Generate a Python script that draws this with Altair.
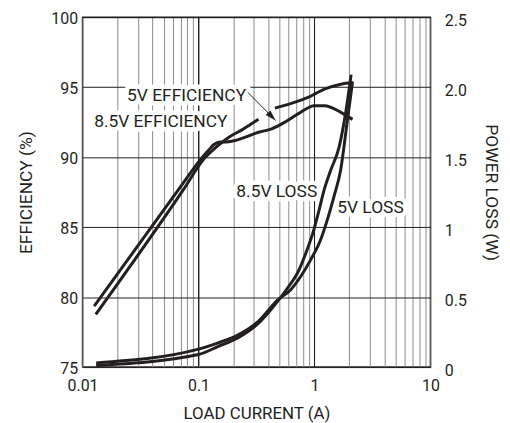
import altair as alt
import pandas as pd

FONT = "Roboto, Liberation Sans, sans-serif"
INK = "#231f20"

# ---------------- data ----------------
# 5V efficiency (sharp knee near 0.12 A, lower curve at high current)
eff5_x = [0.0126, 0.0667, 0.108, 0.122, 0.136, 0.15, 0.182, 0.208, 0.253, 0.329,
          0.427, 0.556, 0.721, 1.0, 1.22, 1.69, 2.13]
eff5_y = [79.35, 87.64, 90.0, 90.5, 90.9, 91.07, 91.1, 91.19, 91.43, 91.78,
          92.02, 92.5, 93.09, 93.68, 93.68, 93.2, 92.7]

# 8.5V efficiency (smooth, upper curve at high current) - broken where the arrow crosses
eff85_x_a = [0.0130, 0.0736, 0.112, 0.141, 0.183, 0.237, 0.329]
eff85_y_a = [78.76, 87.64, 89.9, 90.7, 91.43, 91.95, 92.7]
eff85_x_b = [0.456, 0.632, 0.88, 1.22, 1.69, 2.13]
eff85_y_b = [93.5, 93.84, 94.27, 94.86, 95.21, 95.33]

# power loss (W)
loss85_x = [0.0131, 0.1, 0.15, 0.22, 0.326, 0.45, 0.588, 0.716, 0.843, 0.993,
            1.096, 1.21, 1.38, 1.63, 1.85, 2.07]
loss85_y = [0.012, 0.09, 0.15, 0.21, 0.31, 0.44, 0.567, 0.674, 0.815, 0.988,
            1.122, 1.264, 1.406, 1.571, 1.808, 2.09]
loss5_x = [0.0131, 0.1, 0.15, 0.22, 0.326, 0.483, 0.627, 0.763, 0.929, 1.13,
           1.29, 1.47, 1.68, 1.92, 2.13]
loss5_y = [0.03, 0.128, 0.175, 0.23, 0.325, 0.48, 0.555, 0.649, 0.768, 0.91,
           1.052, 1.217, 1.406, 1.76, 2.04]

# annotation labels (positioned in current / efficiency units)
label_text = ["5V EFFICIENCY", "8.5V EFFICIENCY", "8.5V LOSS", "5V LOSS"]
label_x = [0.0789, 0.0473, 0.473, 3.04]
label_y = [94.38, 92.50, 87.54, 86.33]

# arrow from "5V EFFICIENCY" to its curve
arrow_x = [0.267, 0.462]
arrow_y = [94.62, 92.62]

# axes
x_grid_values = [0.01, 0.02, 0.03, 0.04, 0.05, 0.06, 0.07, 0.08, 0.09,
                 0.1, 0.2, 0.3, 0.4, 0.5, 0.6, 0.7, 0.8, 0.9,
                 1, 2, 3, 4, 5, 6, 7, 8, 9, 10]
x_decades = [0.1, 1]
x_label_values = [0.01, 0.1, 1, 10]
x_label_text = ["0.01", "0.1", "1", "10"]
eff_ticks = [75, 80, 85, 90, 95, 100]
loss_ticks = [0, 0.5, 1, 1.5, 2, 2.5]
loss_tick_text = ["0", "0.5", "1", "1.5", "2.0", "2.5"]

# ---------------- tables ----------------
eff_df = pd.concat([
    pd.DataFrame({"x": eff5_x, "y": eff5_y, "seg": "5V"}),
    pd.DataFrame({"x": eff85_x_a, "y": eff85_y_a, "seg": "8.5V a"}),
    pd.DataFrame({"x": eff85_x_b, "y": eff85_y_b, "seg": "8.5V b"}),
])
loss_df = pd.concat([
    pd.DataFrame({"x": loss85_x, "y": loss85_y, "seg": "8.5V"}),
    pd.DataFrame({"x": loss5_x, "y": loss5_y, "seg": "5V"}),
])
lab_df = pd.DataFrame({"text": label_text, "x": label_x, "y": label_y})
arrow_df = pd.DataFrame({"x": [arrow_x[0]], "y": [arrow_y[0]],
                         "x2": [arrow_x[1]], "y2": [arrow_y[1]]})
tip_df = pd.DataFrame({"x": [arrow_x[1]], "y": [arrow_y[1]]})
dec_df = pd.DataFrame({"x": x_decades})

x_expr = " : ".join(f"datum.value == {v} ? '{t}'" for v, t in zip(x_label_values, x_label_text)) + " : ''"
loss_expr = "[" + ",".join(f"'{t}'" for t in loss_tick_text) + "][round(datum.value * 2)]"

x_scale = alt.Scale(type="log", domain=[0.01, 10], nice=False)
eff_scale = alt.Scale(domain=[75, 100], nice=False, zero=False)
loss_scale = alt.Scale(domain=[0, 2.5], nice=False, zero=False)

x_axis = alt.Axis(
    values=x_grid_values, labelExpr=x_expr, title="LOAD CURRENT (A)",
    grid=True, gridColor="#8c8c8c", gridWidth=1,
    ticks=False, domain=False, labelFlush=False, labelOverlap=False,
    labelPadding=11, labelFont=FONT, labelFontSize=16, labelColor=INK,
    titleFont=FONT, titleFontSize=17, titleFontWeight="normal", titleColor=INK,
    titlePadding=12,
)
eff_axis = alt.Axis(
    values=eff_ticks, title="EFFICIENCY (%)", grid=True, gridColor=INK, gridWidth=1,
    ticks=False, domain=False, labelFlush=False, labelPadding=5, labelOffset=1,
    labelFont=FONT, labelFontSize=16, labelColor=INK,
    titleFont=FONT, titleFontSize=17.5, titleFontWeight="normal", titleColor=INK,
    titleX=-51, titleY=176, titleBaseline="alphabetic", titleAngle=-90,
)
loss_axis = alt.Axis(
    orient="right", values=loss_ticks, labelExpr=loss_expr, title="POWER LOSS (W)",
    grid=False, ticks=False, domain=False, labelFlush=False, labelPadding=14, labelOffset=3,
    labelFont=FONT, labelFontSize=16, labelColor=INK,
    titleFont=FONT, titleFontSize=17.5, titleFontWeight="normal", titleColor=INK,
    titleX=55, titleY=176, titleBaseline="alphabetic", titleAngle=90,
)

X = alt.X("x:Q", scale=x_scale, axis=x_axis)
Y_NOAXIS = alt.Y("y:Q", scale=eff_scale, axis=None)

eff_lines = alt.Chart(eff_df).mark_line(
    color=INK, strokeWidth=3, interpolate="monotone", strokeCap="butt"
).encode(
    x=X,
    y=alt.Y("y:Q", scale=eff_scale, axis=eff_axis),
    detail="seg:N",
)

loss_lines = alt.Chart(loss_df).mark_line(
    color=INK, strokeWidth=3, interpolate="monotone", strokeCap="butt"
).encode(
    x=X,
    y=alt.Y("y:Q", scale=loss_scale, axis=loss_axis),
    detail="seg:N",
)

decade_rules = alt.Chart(dec_df).mark_rule(color="#1a1a1a", strokeWidth=1).encode(x=X)

halo = alt.Chart(lab_df).mark_text(
    font=FONT, fontSize=17.5, fill="white", stroke="white", strokeWidth=9,
    strokeJoin="round", align="center", baseline="middle"
).encode(x=X, y=Y_NOAXIS, text="text:N")

labels = alt.Chart(lab_df).mark_text(
    font=FONT, fontSize=17.5, color=INK, align="center", baseline="middle"
).encode(x=X, y=Y_NOAXIS, text="text:N")

arrow_line = alt.Chart(arrow_df).mark_rule(color=INK, strokeWidth=1).encode(
    x=X, y=Y_NOAXIS, x2="x2:Q", y2="y2:Q",
)
arrow_head = alt.Chart(tip_df).mark_point(
    shape="M0,0L-0.3,1L0.3,1Z", filled=True, size=480, angle=136,
    color=INK, opacity=1, strokeWidth=0
).encode(x=X, y=Y_NOAXIS)

chart = alt.layer(
    eff_lines, decade_rules, halo, loss_lines, arrow_line, arrow_head, labels
).resolve_scale(y="independent").properties(
    width=350, height=352,
    padding={"left": 75, "top": 8, "right": 72, "bottom": 56},
    autosize=alt.AutoSizeParams(type="none"),
    background="white",
).configure_view(stroke=INK, strokeWidth=1.5)

chart.save("out.html", embed_options={"renderer": "svg", "actions": False})
